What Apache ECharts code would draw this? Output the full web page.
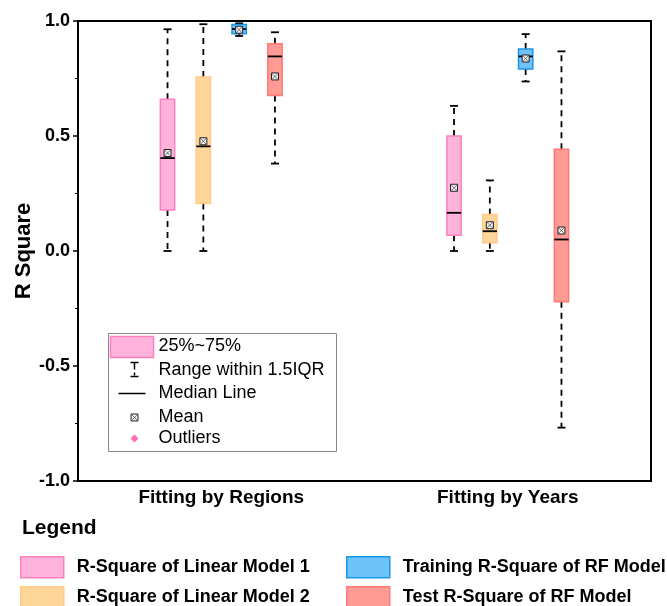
<!DOCTYPE html>
<html>
<head>
<meta charset="utf-8">
<script src="https://cdn.jsdelivr.net/npm/echarts@6/dist/echarts.min.js"></script>
<style>
  html, body { margin: 0; padding: 0; background: #fff; }
  #main { width: 667px; height: 606px; }
</style>
</head>
<body>
<div id="main"></div>
<script>
// categories on the x axis
var categories = ['Fitting by Regions', 'Fitting by Years'];
var yTicks = [-1.0, -0.5, 0.0, 0.5, 1.0];

// [min, q1, median, q3, max] for each category
var linear1 = [[0.00, 0.178, 0.404, 0.660, 0.964], [0.00, 0.068, 0.166, 0.500, 0.631]];
var linear2 = [[0.00, 0.206, 0.455, 0.757, 0.986], [0.00, 0.036, 0.086, 0.159, 0.307]];
var rfTrain = [[0.935, 0.945, 0.965, 0.985, 0.990], [0.737, 0.791, 0.846, 0.878, 0.943]];
var rfTest  = [[0.380, 0.676, 0.846, 0.901, 0.951], [-0.768, -0.221, 0.050, 0.442, 0.868]];

// means
var linear1Mean = [0.426, 0.275];
var linear2Mean = [0.477, 0.112];
var rfTrainMean = [0.962, 0.837];
var rfTestMean  = [0.759, 0.089];

var names = ['R-Square of Linear Model 1', 'R-Square of Linear Model 2',
             'Training R-Square of RF Model', 'Test R-Square of RF Model'];
var fills = ['#FFB3DA', '#FFD699', '#6EC3FA', '#FF9A94'];
var borders = ['#FF80BF', '#FFC98A', '#1E96E6', '#FF7A72'];

function toRows(stats, means) {
    var rows = [];
    for (var i = 0; i < stats.length; i++) {
        rows.push([i].concat(stats[i]).concat([means[i]]));
    }
    return rows;
}

var FONT = 'Liberation Sans, Arial, sans-serif';

function renderBox(params, api) {
    var cat = api.value(0);
    var band = api.size([1, 0])[0];
    var cx = api.coord([cat, 0])[0] + (params.seriesIndex - 1.5) * band * 0.125;
    var w = band * 0.05;
    var yMin = api.coord([cat, api.value(1)])[1];
    var yQ1 = api.coord([cat, api.value(2)])[1];
    var yMed = api.coord([cat, api.value(3)])[1];
    var yQ3 = api.coord([cat, api.value(4)])[1];
    var yMax = api.coord([cat, api.value(5)])[1];
    var yMean = api.coord([cat, api.value(6)])[1];
    var capW = 4;
    var whisk = { stroke: '#000', lineWidth: 1.8, lineDash: [6, 5] };
    var solid = { stroke: '#000', lineWidth: 1.8 };
    var m = 3.5;
    return {
        type: 'group',
        children: [
            { type: 'line', shape: { x1: cx, y1: yQ3, x2: cx, y2: yMax }, style: whisk },
            { type: 'line', shape: { x1: cx, y1: yQ1, x2: cx, y2: yMin }, style: whisk },
            { type: 'line', shape: { x1: cx - capW, y1: yMax, x2: cx + capW, y2: yMax }, style: solid },
            { type: 'line', shape: { x1: cx - capW, y1: yMin, x2: cx + capW, y2: yMin }, style: solid },
            { type: 'rect', shape: { x: cx - w / 2, y: yQ3, width: w, height: yQ1 - yQ3 },
              style: { fill: fills[params.seriesIndex], stroke: borders[params.seriesIndex], lineWidth: 1.5 } },
            { type: 'line', shape: { x1: cx - w / 2, y1: yMed, x2: cx + w / 2, y2: yMed }, style: solid },
            { type: 'rect', shape: { x: cx - m, y: yMean - m, width: 2 * m, height: 2 * m },
              style: { fill: '#f2f2f2', stroke: '#222', lineWidth: 1 } },
            { type: 'line', shape: { x1: cx - m, y1: yMean - m, x2: cx + m, y2: yMean + m }, style: { stroke: '#555', lineWidth: 0.8 } },
            { type: 'line', shape: { x1: cx - m, y1: yMean + m, x2: cx + m, y2: yMean - m }, style: { stroke: '#555', lineWidth: 0.8 } }
        ]
    };
}

var allStats = [linear1, linear2, rfTrain, rfTest];
var allMeans = [linear1Mean, linear2Mean, rfTrainMean, rfTestMean];

var series = [];
for (var s = 0; s < 4; s++) {
    series.push({
        name: names[s],
        type: 'custom',
        renderItem: renderBox,
        itemStyle: { color: fills[s], borderColor: borders[s], borderWidth: 1.5 },
        encode: { x: 0, y: [1, 2, 3, 4, 5, 6] },
        data: toRows(allStats[s], allMeans[s]),
        z: 3
    });
}

// one legend per item so the two columns keep their place
var legendPos = [[20, 556], [20, 586], [346, 556], [346, 586]];
var legends = legendPos.map(function (p, i) {
    return {
        left: p[0], top: p[1], padding: 0, selectedMode: false,
        itemWidth: 43, itemHeight: 21,
        textStyle: { color: '#000', fontFamily: FONT, fontWeight: 'bold', fontSize: 18, padding: [0, 0, 0, 8] },
        data: [{ name: names[i], icon: 'rect',
                 itemStyle: { color: fills[i], borderColor: borders[i], borderWidth: 1.5 } }]
    };
});

var myChart = echarts.init(document.getElementById('main'));

var option = {
    backgroundColor: '#fff',
    animation: false,
    grid: {
        left: 78, right: 16, top: 21, bottom: 125,
        show: true, borderColor: '#000', borderWidth: 2, backgroundColor: 'transparent'
    },
    xAxis: {
        type: 'category',
        data: categories,
        axisLine: { onZero: false, lineStyle: { color: '#000', width: 2 } },
        axisTick: { show: false },
        axisLabel: { color: '#000', fontFamily: FONT, fontWeight: 'bold', fontSize: 19, margin: 7 },
        splitLine: { show: false }
    },
    yAxis: {
        type: 'value',
        min: yTicks[0],
        max: yTicks[yTicks.length - 1],
        interval: 0.5,
        name: 'R Square',
        nameLocation: 'middle',
        nameGap: 43,
        nameMoveOverlap: false,
        nameTextStyle: { color: '#000', fontFamily: FONT, fontWeight: 'bold', fontSize: 22 },
        axisLine: { show: true, lineStyle: { color: '#000', width: 2 } },
        axisTick: { show: true, inside: false, length: 5, lineStyle: { color: '#000', width: 1.5 } },
        minorTick: { show: true, splitNumber: 2, length: 3, lineStyle: { color: '#000', width: 1 } },
        axisLabel: {
            color: '#000', fontFamily: FONT, fontWeight: 'bold', fontSize: 18, margin: 8,
            formatter: function (v) { return v.toFixed(1); }
        },
        splitLine: { show: false }
    },
    legend: legends,
    graphic: [
        { type: 'text', left: 22, top: 518,
          style: { text: 'Legend', fill: '#000', font: 'bold 21px ' + FONT } },
        {
            type: 'group', left: 108, top: 333,
            children: [
                { type: 'rect', shape: { x: 0, y: 0, width: 228, height: 118 },
                  style: { fill: '#fff', stroke: '#888', lineWidth: 1 } },
                { type: 'rect', shape: { x: 2, y: 3, width: 43, height: 21 },
                  style: { fill: fills[0], stroke: borders[0], lineWidth: 1.5 } },
                { type: 'text', x: 50, y: 13, style: { text: '25%~75%', fill: '#000', font: '18px ' + FONT, verticalAlign: 'middle' } },
                { type: 'line', shape: { x1: 22, y1: 29, x2: 30, y2: 29 }, style: { stroke: '#000', lineWidth: 1.5 } },
                { type: 'line', shape: { x1: 26, y1: 29, x2: 26, y2: 36 }, style: { stroke: '#000', lineWidth: 1.5 } },
                { type: 'line', shape: { x1: 26, y1: 39, x2: 26, y2: 42 }, style: { stroke: '#000', lineWidth: 1.5 } },
                { type: 'line', shape: { x1: 22, y1: 43, x2: 30, y2: 43 }, style: { stroke: '#000', lineWidth: 1.5 } },
                { type: 'text', x: 50, y: 37, style: { text: 'Range within 1.5IQR', fill: '#000', font: '18px ' + FONT, verticalAlign: 'middle' } },
                { type: 'line', shape: { x1: 10, y1: 60, x2: 37, y2: 60 }, style: { stroke: '#000', lineWidth: 1.5 } },
                { type: 'text', x: 50, y: 60, style: { text: 'Median Line', fill: '#000', font: '18px ' + FONT, verticalAlign: 'middle' } },
                { type: 'rect', shape: { x: 22.5, y: 80.5, width: 7, height: 7 }, style: { fill: '#f2f2f2', stroke: '#222', lineWidth: 1 } },
                { type: 'line', shape: { x1: 22.5, y1: 80.5, x2: 29.5, y2: 87.5 }, style: { stroke: '#555', lineWidth: 0.8 } },
                { type: 'line', shape: { x1: 22.5, y1: 87.5, x2: 29.5, y2: 80.5 }, style: { stroke: '#555', lineWidth: 0.8 } },
                { type: 'text', x: 50, y: 84, style: { text: 'Mean', fill: '#000', font: '18px ' + FONT, verticalAlign: 'middle' } },
                { type: 'polygon', shape: { points: [[26, 101], [30, 105], [26, 109], [22, 105]] }, style: { fill: '#FF6EB4' } },
                { type: 'text', x: 50, y: 105, style: { text: 'Outliers', fill: '#000', font: '18px ' + FONT, verticalAlign: 'middle' } }
            ]
        }
    ],
    series: series
};

myChart.setOption(option);
</script>
</body>
</html>
